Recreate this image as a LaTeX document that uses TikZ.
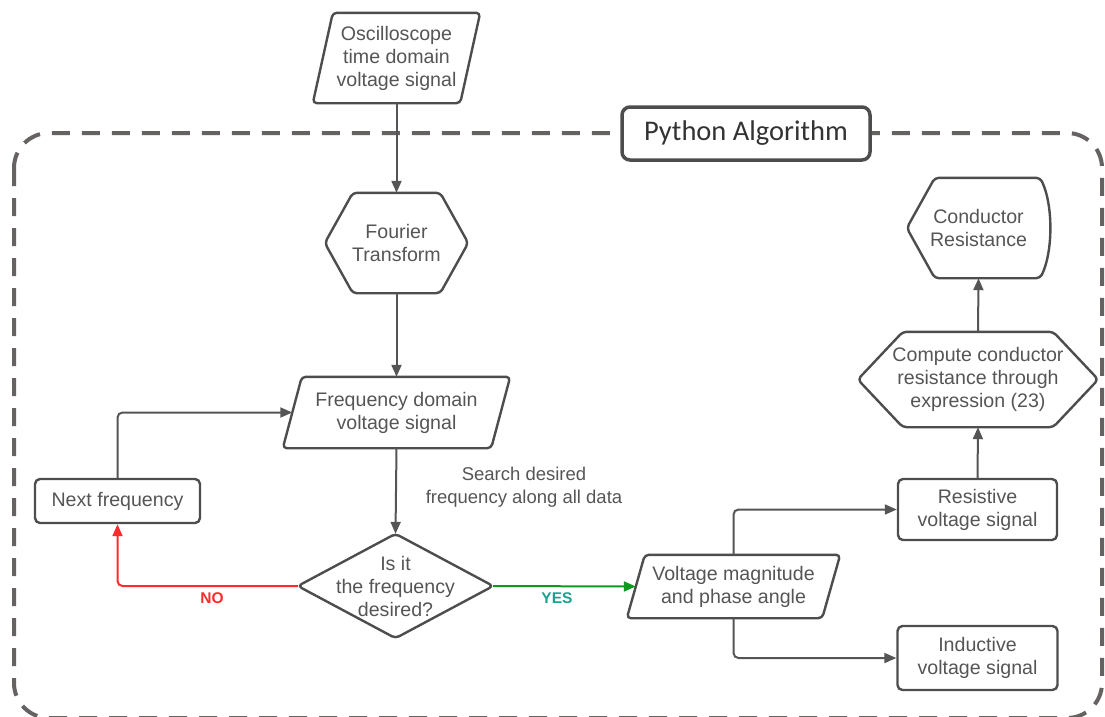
\documentclass[tikz,border=0pt]{standalone}
\usepackage{fontspec}
\setmainfont{Liberation Sans}
\newfontfamily\calibri{Carlito}
\usetikzlibrary{arrows.meta,calc}
\definecolor{edge}{HTML}{4D4D4D}
\definecolor{ink}{HTML}{555555}
\definecolor{frame}{HTML}{676262}
\definecolor{nored}{HTML}{FF2A2A}
\definecolor{yesgreen}{HTML}{0E9A1E}
\definecolor{yesteal}{HTML}{1FA08E}
\begin{document}
\begin{tikzpicture}[x=1pt,y=-1pt,
  txt/.style={text=ink, font=\fontsize{19.6}{23}\selectfont, align=center, inner sep=0pt},
  shp/.style={draw=edge, line width=2.4pt, rounded corners=4pt, line join=round},
  conn/.style={draw=ink, line width=2pt, rounded corners=5pt, -{Triangle[length=12pt,width=10pt]}},
  tag/.style={font=\bfseries\fontsize{15.5}{17}\selectfont, inner sep=0pt}]
\useasboundingbox (0,0) rectangle (1105,716);

% dashed frame of the algorithm
\draw[draw=frame, line width=4pt, dash pattern=on 18pt off 12pt, rounded corners=35pt]
  (14,133) rectangle (1102,718);
\node[draw=edge, line width=3.5pt, rounded corners=8pt, fill=white,
  minimum width=248pt, minimum height=53pt, text=black!80,
  font=\calibri\fontsize{28.5}{31}\selectfont] (py) at (746,133.5) {Python Algorithm};

% input signal (parallelogram)
\node[txt, minimum width=167pt, minimum height=90pt] (osc) at (396.5,58)
  {Oscilloscope\\time domain\\voltage signal};
\draw[shp] ($(osc.north west)+(20,0)$) -- (osc.north east)
  -- ($(osc.south east)-(20,0)$) -- (osc.south west) -- cycle;

% Fourier transform (hexagon)
\node[txt, minimum width=143pt, minimum height=100pt] (ft) at (396.5,243)
  {Fourier\\Transform};
\draw[shp] (ft.west) -- ($(ft.north west)+(28,0)$) -- ($(ft.north east)-(28,0)$)
  -- (ft.east) -- ($(ft.south east)-(28,0)$) -- ($(ft.south west)+(28,0)$) -- cycle;

% frequency domain signal (parallelogram)
\node[txt, minimum width=227pt, minimum height=71pt] (fd) at (396.5,412.5)
  {Frequency domain\\voltage signal};
\draw[shp] ($(fd.north west)+(19,0)$) -- (fd.north east)
  -- ($(fd.south east)-(19,0)$) -- (fd.south west) -- cycle;

% next frequency
\node[txt, shp, rounded corners=5pt, minimum width=165pt, minimum height=44pt]
  (nf) at (117.5,501) {Next frequency};

% decision (diamond)
\node[txt, minimum width=195pt, minimum height=104pt] (dec) at (395.5,586)
  {Is it\\the frequency\\desired?};
\draw[shp] (dec.north) -- (dec.east) -- (dec.south) -- (dec.west) -- cycle;

% magnitude and phase (parallelogram)
\node[txt, minimum width=213pt, minimum height=63pt] (vm) at (733.5,586.5)
  {Voltage magnitude\\and phase angle};
\draw[shp] ($(vm.north west)+(18,0)$) -- (vm.north east)
  -- ($(vm.south east)-(18,0)$) -- (vm.south west) -- cycle;

% resistive and inductive components
\node[txt, shp, rounded corners=5pt, minimum width=159pt, minimum height=61pt]
  (rv) at (977.5,509.5) {Resistive\\voltage signal};
\node[txt, shp, rounded corners=5pt, minimum width=160pt, minimum height=64pt]
  (iv) at (977.5,658) {Inductive\\voltage signal};

% computation (hexagon)
\node[txt, minimum width=240pt, minimum height=95pt] (cc) at (978,379.5)
  {Compute conductor\\resistance through\\expression (23)};
\draw[shp] (cc.west) -- ($(cc.north west)+(45,0)$) -- ($(cc.north east)-(45,0)$)
  -- (cc.east) -- ($(cc.south east)-(45,0)$) -- ($(cc.south west)+(45,0)$) -- cycle;

% result (display shape)
\node[txt, minimum width=143pt, minimum height=100pt] (cr) at (978.5,228)
  {Conductor\\Resistance};
\draw[shp] (cr.west) -- ($(cr.north west)+(28,0)$) -- ($(cr.north east)-(10,0)$)
  .. controls ($(cr.north east)+(3,27)$) and ($(cr.south east)+(3,-27)$) .. ($(cr.south east)-(10,0)$)
  -- ($(cr.south west)+(28,0)$) -- cycle;

% connectors
\draw[conn] (osc.south) -- (ft.north);
\draw[conn] (ft.south) -- (fd.north);
\draw[conn] (fd.south) -- (dec.north);
\node[txt, font=\fontsize{18.5}{23}\selectfont] (srch) at (524,487) {Search desired\\frequency along all data};
\draw[conn] (nf.north) |- ($(fd.west)+(9.5,0)$);
\draw[conn, draw=nored, -{Triangle[length=12pt,width=10pt,fill=nored]}, nored]
  (dec.west) -| (nf.south);
\node[tag, text=nored] (no) at (212,598) {NO};
\draw[conn, draw=yesgreen, yesgreen] (dec.east) -- ($(vm.west)+(9,0)$);
\node[tag, text=yesteal] (yes) at (557,598) {YES};
\draw[conn] (vm.north) |- (rv.west);
\draw[conn] (vm.south) |- (iv.west);
\draw[conn] (rv.north) -- (cc.south);
\draw[conn] (cc.north) -- (cr.south);
\end{tikzpicture}
\end{document}
